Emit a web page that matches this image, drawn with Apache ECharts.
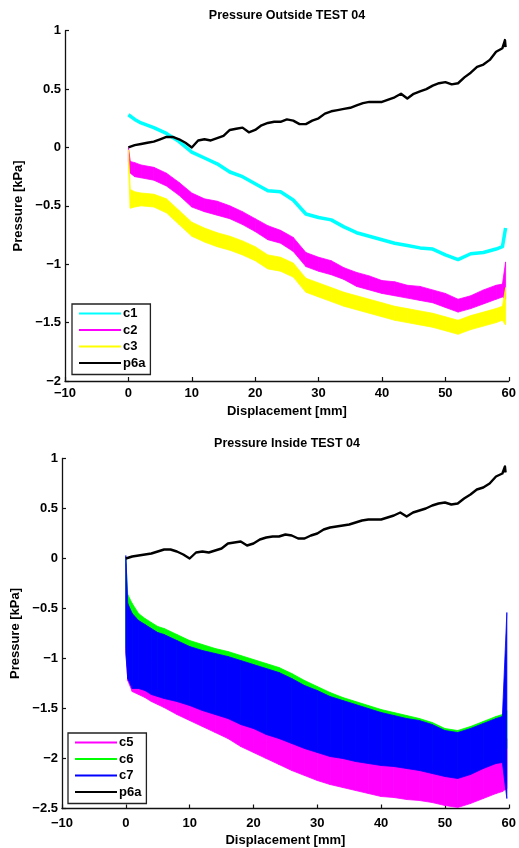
<!DOCTYPE html>
<html>
<head>
<meta charset="utf-8">
<script src="https://cdn.jsdelivr.net/npm/echarts@6/dist/echarts.min.js"></script>
<style>
  html, body { margin: 0; padding: 0; background: #fff; }
  #chart { width: 519px; height: 848px; }
</style>
</head>
<body>
<div id="chart"></div>
<script>
// ---- reference pressure p6a (same sensor in both panels), 1 mm steps ----
const dispP6a = [0,1,2,3,4,5,6,7,8,9,10,11,12,13,14,15,16,17,18,19,20,21,22,23,24,25,26,27,28,29,
  30,31,32,33,34,35,36,37,38,39,40,41,42,43,44,45,46,47,48,49,50,51,52,53,54,55,56,57,58,59,59.3,59.4,59.5];
const p6a = [0.00,0.02,0.03,0.04,0.05,0.07,0.09,0.09,0.07,0.04,
  0.00,0.06,0.07,0.06,0.08,0.10,0.15,0.16,0.17,0.13,
  0.15,0.19,0.21,0.22,0.22,0.24,0.23,0.20,0.20,0.23,
  0.25,0.29,0.31,0.32,0.33,0.34,0.36,0.38,0.39,0.39,
  0.39,0.41,0.43,0.46,0.42,0.46,0.48,0.50,0.53,0.55,
  0.56,0.54,0.55,0.60,0.64,0.69,0.71,0.75,0.82,0.85,0.84,0.92,0.86];

// ---- outside sensors c1..c3 ----
const dispOut = [0,0.3,1,2,4,6,8,10,12,14,16,18,20,22,24,26,28,30,32,34,36,38,40,42,44,46,48,50,52,54,56,58,59,59.5];
const c1 = [0.28,0.27,0.24,0.21,0.17,0.12,0.05,-0.04,-0.09,-0.14,-0.21,-0.25,-0.31,-0.37,-0.38,-0.45,
  -0.57,-0.60,-0.62,-0.68,-0.73,-0.76,-0.79,-0.82,-0.84,-0.86,-0.87,-0.92,-0.96,-0.91,-0.90,-0.87,-0.85,-0.69];
const c2Hi = [0.00,-0.12,-0.13,-0.15,-0.17,-0.22,-0.30,-0.39,-0.44,-0.46,-0.50,-0.55,-0.61,-0.67,-0.71,-0.77,
  -0.90,-0.94,-0.97,-1.03,-1.07,-1.10,-1.14,-1.15,-1.18,-1.19,-1.22,-1.25,-1.30,-1.27,-1.22,-1.18,-1.17,-0.98];
const c2Lo = [-0.12,-0.22,-0.25,-0.26,-0.28,-0.33,-0.41,-0.51,-0.55,-0.58,-0.61,-0.66,-0.72,-0.79,-0.82,-0.89,
  -1.02,-1.06,-1.09,-1.13,-1.19,-1.22,-1.25,-1.27,-1.29,-1.31,-1.33,-1.37,-1.41,-1.38,-1.34,-1.30,-1.28,-1.30];
const c3Hi = [-0.02,-0.36,-0.38,-0.39,-0.40,-0.44,-0.54,-0.64,-0.69,-0.73,-0.76,-0.80,-0.85,-0.92,-0.94,-0.99,
  -1.12,-1.16,-1.20,-1.24,-1.27,-1.30,-1.33,-1.36,-1.38,-1.40,-1.42,-1.45,-1.48,-1.44,-1.41,-1.38,-1.36,-1.20];
const c3Lo = [-0.15,-0.52,-0.51,-0.50,-0.51,-0.56,-0.66,-0.76,-0.81,-0.85,-0.88,-0.92,-0.97,-1.04,-1.06,-1.11,
  -1.24,-1.28,-1.32,-1.36,-1.39,-1.42,-1.45,-1.48,-1.50,-1.52,-1.54,-1.57,-1.60,-1.56,-1.53,-1.50,-1.48,-1.52];

// ---- inside sensors c5..c7 ----
const dispIn = [0,0.3,1,2,3,4,5,6,8,10,12,14,16,18,20,22,24,26,28,30,32,34,36,38,40,42,44,46,48,50,52,54,56,58,59,59.7];
const c5Hi = [-0.05,-0.80,-0.90,-0.95,-0.98,-1.02,-1.05,-1.08,-1.12,-1.17,-1.22,-1.26,-1.30,-1.36,-1.40,-1.45,-1.50,-1.56,
  -1.62,-1.67,-1.72,-1.76,-1.79,-1.82,-1.85,-1.87,-1.89,-1.91,-1.94,-1.97,-1.99,-1.95,-1.90,-1.85,-1.83,-1.80];
const c5Lo = [-0.90,-1.22,-1.33,-1.36,-1.39,-1.43,-1.46,-1.49,-1.56,-1.62,-1.68,-1.74,-1.80,-1.88,-1.94,-2.00,-2.06,-2.12,
  -2.17,-2.22,-2.26,-2.29,-2.32,-2.35,-2.38,-2.39,-2.41,-2.42,-2.44,-2.47,-2.49,-2.45,-2.40,-2.35,-2.33,-2.30];
const c6Hi = [0.00,-0.36,-0.45,-0.55,-0.60,-0.64,-0.68,-0.70,-0.76,-0.82,-0.86,-0.90,-0.93,-0.97,-1.01,-1.05,-1.09,-1.15,
  -1.22,-1.28,-1.34,-1.39,-1.43,-1.47,-1.51,-1.54,-1.57,-1.60,-1.64,-1.70,-1.72,-1.68,-1.63,-1.58,-1.56,-1.52];
const c6Lo = [-0.85,-1.10,-1.20,-1.20,-1.22,-1.26,-1.28,-1.30,-1.33,-1.37,-1.42,-1.46,-1.50,-1.56,-1.60,-1.66,-1.70,-1.75,
  -1.80,-1.84,-1.88,-1.90,-1.93,-1.95,-1.97,-1.98,-2.00,-2.02,-2.05,-2.08,-2.10,-2.06,-2.00,-1.95,-1.94,-1.90];
const c7Hi = [0.03,-0.45,-0.55,-0.62,-0.66,-0.70,-0.74,-0.76,-0.82,-0.88,-0.92,-0.95,-0.98,-1.02,-1.06,-1.10,-1.14,-1.20,
  -1.27,-1.32,-1.38,-1.42,-1.46,-1.50,-1.54,-1.57,-1.60,-1.62,-1.66,-1.72,-1.74,-1.70,-1.65,-1.60,-1.58,-0.54];
const c7Lo = [-0.95,-1.20,-1.30,-1.30,-1.32,-1.36,-1.38,-1.40,-1.43,-1.47,-1.52,-1.56,-1.60,-1.66,-1.70,-1.76,-1.80,-1.85,
  -1.90,-1.94,-1.98,-2.00,-2.03,-2.05,-2.07,-2.08,-2.10,-2.12,-2.15,-2.18,-2.20,-2.16,-2.10,-2.05,-2.04,-2.40];

// ---- axis ticks ----
const xTicks = { min: -10, max: 60, step: 10 };
const yTicksOut = { min: -2, max: 1, step: 0.5 };
const yTicksIn = { min: -2.5, max: 1, step: 0.5 };

const FONT = 'Liberation Sans, Arial, Helvetica, sans-serif';
const txt = { color: '#000', fontFamily: FONT, fontSize: 13, fontWeight: 'bold' };
const minus = v => String(v).replace('-', '\u2212');

function pairs(xs, ys) { return xs.map((x, i) => [x, ys[i]]); }

function lineSeries(name, xs, ys, color, width, gi) {
  return {
    name, type: 'line', xAxisIndex: gi, yAxisIndex: gi, color,
    data: pairs(xs, ys), showSymbol: false, symbol: 'none', silent: true,
    lineStyle: { color, width, join: 'round' }
  };
}

// noisy trace drawn as a filled band between its lower and upper envelope,
// one quadrilateral per pair of neighbouring samples
function bandSeries(name, xs, lo, hi, color, gi) {
  const segs = [];
  for (let i = 0; i < xs.length - 1; i++) {
    segs.push([xs[i], lo[i], hi[i], xs[i + 1], lo[i + 1], hi[i + 1]]);
  }
  return {
    name, type: 'custom', xAxisIndex: gi, yAxisIndex: gi, color,
    itemStyle: { color }, silent: true, clip: true,
    encode: { x: [0, 3], y: [1, 2, 4, 5] },
    data: segs,
    renderItem: (params, api) => {
      const a = api.coord([api.value(0), api.value(1)]);
      const b = api.coord([api.value(3), api.value(4)]);
      const c = api.coord([api.value(3), api.value(5)]);
      const d = api.coord([api.value(0), api.value(2)]);
      return {
        type: 'polygon',
        shape: { points: [a, b, c, d] },
        style: { fill: color, stroke: color, lineWidth: 0.8 }
      };
    }
  };
}

function xAxis(gi, gap, margin) {
  return {
    type: 'value', gridIndex: gi, min: xTicks.min, max: xTicks.max, interval: xTicks.step,
    name: 'Displacement [mm]', nameLocation: 'middle', nameGap: gap,
    nameTextStyle: Object.assign({}, txt, { verticalAlign: 'top' }),
    axisLine: { onZero: false, lineStyle: { color: '#111', width: 1.3 } },
    axisTick: { inside: true, length: 4, lineStyle: { color: '#111', width: 1.2 } },
    splitLine: { show: false },
    axisLabel: Object.assign({}, txt, { margin, formatter: minus })
  };
}

function yAxis(gi, t, gap) {
  return {
    type: 'value', gridIndex: gi, min: t.min, max: t.max, interval: t.step,
    name: 'Pressure [kPa]', nameLocation: 'middle', nameGap: gap, nameRotate: 90,
    nameTextStyle: txt,
    axisLine: { onZero: false, lineStyle: { color: '#111', width: 1.3 } },
    axisTick: { inside: true, length: 4, lineStyle: { color: '#111', width: 1.2 } },
    splitLine: { show: false },
    axisLabel: Object.assign({}, txt, { margin: 4, formatter: minus })
  };
}

function legend(names, left, top) {
  return {
    data: names, orient: 'vertical', left, top,
    icon: 'rect', itemWidth: 42, itemHeight: 2, itemGap: 3.5,
    borderColor: '#222', borderWidth: 1.3, borderRadius: 0,
    padding: [3, 5, 5, 7], backgroundColor: '#fff',
    selectedMode: false,
    textStyle: Object.assign({}, txt, { padding: [0, 0, 0, -3] })
  };
}

const chart = echarts.init(document.getElementById('chart'), null, { renderer: 'canvas' });
chart.setOption({
  animation: false,
  backgroundColor: '#fff',
  title: [
    { text: 'Pressure Outside TEST 04', left: 287, top: 9, textAlign: 'center', padding: 0,
      textStyle: Object.assign({}, txt, { fontSize: 12.5 }) },
    { text: 'Pressure Inside TEST 04', left: 287, top: 437, textAlign: 'center', padding: 0,
      textStyle: Object.assign({}, txt, { fontSize: 12.5 }) }
  ],
  grid: [
    { left: 65, top: 30.7, width: 444, height: 350.3 },
    { left: 62, top: 458.5, width: 449.5, height: 350 }
  ],
  xAxis: [xAxis(0, 24, 6), xAxis(1, 25, 8)],
  yAxis: [yAxis(0, yTicksOut, 36), yAxis(1, yTicksIn, 35)],
  legend: [
    legend(['c1', 'c2', 'c3', 'p6a'], 72, 304),
    legend(['c5', 'c6', 'c7', 'p6a'], 68, 733)
  ],
  series: [
    lineSeries('c1', dispOut, c1, '#00ffff', 3.5, 0),
    bandSeries('c2', dispOut, c2Lo, c2Hi, '#ff00ff', 0),
    bandSeries('c3', dispOut, c3Lo, c3Hi, '#ffff00', 0),
    lineSeries('p6a', dispP6a, p6a, '#000000', 2.4, 0),
    bandSeries('c5', dispIn, c5Lo, c5Hi, '#ff00ff', 1),
    bandSeries('c6', dispIn, c6Lo, c6Hi, '#00ff00', 1),
    bandSeries('c7', dispIn, c7Lo, c7Hi, '#0000ff', 1),
    lineSeries('p6a', dispP6a, p6a, '#000000', 2.4, 1)
  ]
});
</script>
</body>
</html>
